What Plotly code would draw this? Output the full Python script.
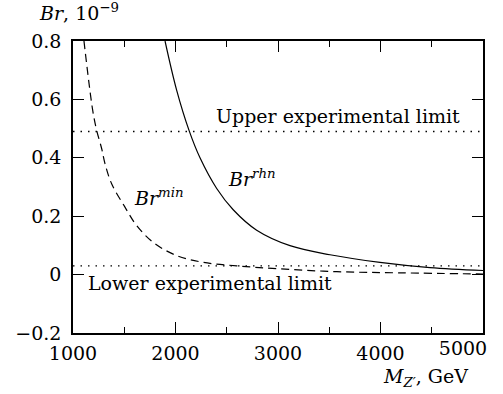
import plotly.graph_objects as go

# Data
mass_rhn = [1898, 2011, 2132, 2239, 2402, 2563, 2792, 3117, 3507, 3995, 4483, 5000]
br_rhn = [0.80, 0.632, 0.494, 0.400, 0.295, 0.222, 0.152, 0.099, 0.068, 0.042, 0.024, 0.014]

mass_min = [1107, 1192, 1231, 1280, 1312, 1377, 1507, 1621, 1784, 2011, 2271, 2597, 3000, 3573, 4200, 5000]
br_min = [0.80, 0.563, 0.494, 0.431, 0.380, 0.311, 0.231, 0.168, 0.110, 0.065, 0.042, 0.030, 0.020, 0.010, 0.006, 0.002]

limit_x = [1000, 5000]
upper_limit = [0.49, 0.49]
lower_limit = [0.03, 0.03]

x_ticks = [1000, 2000, 3000, 4000, 5000]
x_ticklabels = ["1000", "2000", "3000", "4000", ""]
x_last_tick = [5000]
x_last_label = ["5000"]
y_ticks = [-0.2, 0, 0.2, 0.4, 0.6, 0.8]
y_ticklabels = ["\u22120.2", "0", "0.2", "0.4", "0.6", "0.8"]

FONT = "DejaVu Serif"
fig = go.Figure()
fig.add_trace(go.Scatter(x=limit_x, y=upper_limit, mode="lines", xaxis="x2", yaxis="y2",
                         line=dict(color="black", width=1.3, dash="1.5px,6px")))
fig.add_trace(go.Scatter(x=limit_x, y=lower_limit, mode="lines",
                         line=dict(color="black", width=1.3, dash="1.5px,6px")))
fig.add_trace(go.Scatter(x=mass_min, y=br_min, mode="lines", line_shape="spline",
                         line=dict(color="black", width=1.2, dash="8px,5px")))
fig.add_trace(go.Scatter(x=mass_rhn, y=br_rhn, mode="lines", line_shape="spline",
                         line=dict(color="black", width=1.2)))

axis_common = dict(showline=True, linecolor="black", linewidth=1.5, mirror="allticks",
                   ticks="inside", ticklen=11, tickwidth=1, tickcolor="black",
                   showgrid=False, zeroline=False, automargin=False,
                   tickfont=dict(family=FONT, size=19, color="black"))
fig.update_layout(
    xaxis=dict(range=[1000, 5000], tickvals=x_ticks, ticktext=x_ticklabels,
               ticklabelstandoff=2,
               minor=dict(dtick=500, ticks="inside", ticklen=6, tickcolor="black", tickwidth=1, showgrid=False),
               **axis_common),
    xaxis2=dict(range=[1000, 5000], overlaying="x", side="bottom", anchor="y2",
                tickvals=x_last_tick, ticktext=x_last_label, ticks="", showline=False,
                showgrid=False, zeroline=False, automargin=False, ticklabelshift=-20,
                ticklabelstandoff=2, tickfont=dict(family=FONT, size=19, color="black")),
    yaxis=dict(range=[-0.2, 0.8], tickvals=y_ticks, ticktext=y_ticklabels,
               ticklabelstandoff=6, **axis_common),
    yaxis2=dict(range=[-0.2, 0.8], overlaying="y", anchor="x2", showline=False, ticks="",
                showticklabels=False, showgrid=False, zeroline=False, automargin=False),
)

L, R, T, B = 73, 20, 41, 61
W, H = 503, 394
pw, ph = W - L - R, H - T - B

def px_ann(x, y, text, size=19):
    fig.add_annotation(x=(x - L) / pw, y=1 - (y - T) / ph, xref="paper", yref="paper",
                       xanchor="center", yanchor="middle", showarrow=False, text=text,
                       font=dict(family=FONT, size=size, color="black"))

px_ann(338, 116, "Upper experimental limit")
px_ann(210, 283, "Lower experimental limit")
px_ann(158, 197, "<i>Br</i><sup><i>min</i></sup>")
px_ann(252, 178, "<i>Br</i><sup><i>rhn</i></sup>")
px_ann(79, 12, "<i>Br</i>, 10<sup>\u22129</sup>")
px_ann(425, 377, "<i>M</i><sub><i>Z\u2032</i></sub>, GeV")

fig.update_layout(width=W, height=H, margin=dict(l=L, r=R, t=T, b=B, autoexpand=False),
                  plot_bgcolor="white", paper_bgcolor="white", showlegend=False)
fig.write_html("out.html", config={"displayModeBar": False},
               post_script="document.body.style.margin='0';")
